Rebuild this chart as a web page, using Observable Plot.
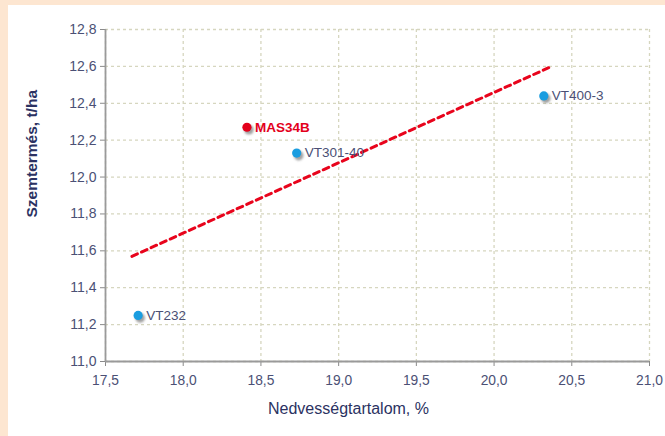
<!DOCTYPE html>
<html>
<head>
<meta charset="utf-8">
<script src="https://cdn.jsdelivr.net/npm/d3@7"></script>
<script src="https://cdn.jsdelivr.net/npm/@observablehq/plot@0.6"></script>
<style>
  html, body { margin: 0; padding: 0; background: #fde6d1; }
  #panel { position: absolute; left: 8px; top: 5px; width: 657px; height: 431px; background: #ffffff; }
  svg { font-family: "Liberation Sans", Arial, sans-serif; }
</style>
</head>
<body>
<div id="panel"></div>
<script>
// Data
const hybrids = ["VT232", "MAS34B", "VT301-40", "VT400-3"];
const moisture = [17.71, 18.41, 18.73, 20.32];   // Nedvességtartalom, %
const yieldTha = [11.25, 12.27, 12.13, 12.44];   // Szemtermés, t/ha
const highlight = [false, true, false, false];

// Trend line endpoints (as drawn)
const trendX = [17.67, 20.37];
const trendY = [11.57, 12.60];

const xTicks = [17.5, 18.0, 18.5, 19.0, 19.5, 20.0, 20.5, 21.0];
const yTicks = [11.0, 11.2, 11.4, 11.6, 11.8, 12.0, 12.2, 12.4, 12.6, 12.8];

const points = hybrids.map((h, i) => ({name: h, x: moisture[i], y: yieldTha[i], hl: highlight[i]}));
const trend = trendX.map((x, i) => ({x, y: trendY[i]}));

const fmt = d => d.toFixed(1).replace(".", ",");
const textCol = "#4b5075";
const titleCol = "#2b3262";

const chart = Plot.plot({
  width: 657,
  height: 431,
  marginLeft: 97,
  marginRight: 16,
  marginTop: 24,
  marginBottom: 75,
  style: {background: "transparent", fontFamily: "Liberation Sans, Arial, sans-serif", fontSize: "13px", color: textCol},
  x: {domain: [17.5, 21.0]},
  y: {domain: [11.0, 12.8]},
  marks: [
    Plot.gridX(xTicks, {stroke: "#d6d6bf", strokeOpacity: 1, strokeWidth: 1.3, strokeDasharray: "3,3"}),
    Plot.gridY(yTicks, {stroke: "#d6d6bf", strokeOpacity: 1, strokeWidth: 1.3, strokeDasharray: "3,3"}),
    Plot.axisX(xTicks, {tickFormat: fmt, tickSize: 5, tickPadding: 9, stroke: "#8a8a8a", fill: textCol, fontSize: 13.8, label: null}),
    Plot.axisY(yTicks, {tickFormat: fmt, tickSize: 5, tickPadding: 4, stroke: "#8a8a8a", fill: textCol, fontSize: 14, label: null}),
    Plot.ruleX([17.5], {stroke: "#9a9a9a", strokeWidth: 1.8}),
    Plot.ruleY([11.0], {stroke: "#9a9a9a", strokeWidth: 1.8}),
    Plot.line(trend, {x: "x", y: "y", stroke: "#e8041c", strokeWidth: 3, strokeDasharray: "6,4.5"}),
    Plot.dot(points, {x: "x", y: "y", r: 4.8, fill: "#7a7a7a", fillOpacity: 0.7, dx: 2, dy: 2.5}),
    Plot.dot(points, {x: "x", y: "y", r: 4.6, fill: d => d.hl ? "#e3001b" : "#1a9de0"}),
    Plot.text(points.filter(d => !d.hl), {x: "x", y: "y", text: "name", dx: 8, textAnchor: "start", fill: textCol, fontSize: 13.5}),
    Plot.text(points.filter(d => d.hl), {x: "x", y: "y", text: "name", dx: 8, textAnchor: "start", fill: "#e3001b", fontSize: 13.5, fontWeight: "bold"}),
    Plot.text(["Nedvességtartalom, %"], {frameAnchor: "bottom", dx: -29, dy: 52, fill: titleCol, fontSize: 16}),
    Plot.text(["Szemtermés, t/ha"], {frameAnchor: "left", dx: -73, dy: 22, rotate: -90, fill: titleCol, fontSize: 15.5, fontWeight: "bold"})
  ]
});
// soft shadow under the dots
const svg = d3.select(chart);
svg.insert("defs", ":first-child").append("filter").attr("id", "dotShadow")
  .attr("x", "-50%").attr("y", "-50%").attr("width", "200%").attr("height", "200%")
  .append("feGaussianBlur").attr("stdDeviation", 1.3);
svg.selectAll("g[aria-label='dot']").filter((d, i) => i === 0).attr("filter", "url(#dotShadow)");
document.getElementById("panel").appendChild(chart);
</script>
</body>
</html>
